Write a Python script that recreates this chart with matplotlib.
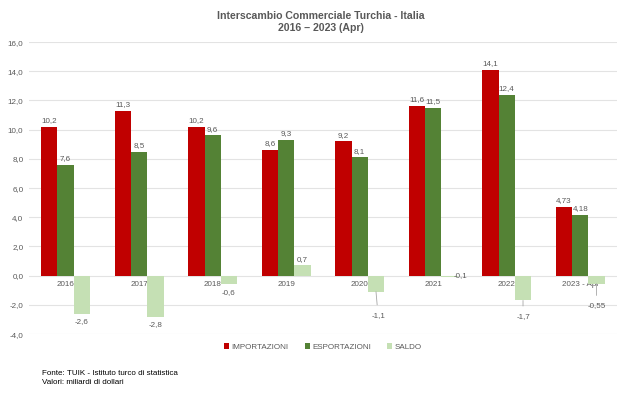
import matplotlib
matplotlib.use("Agg")
import matplotlib.pyplot as plt
import numpy as np

plt.rcParams['font.family'] = ['Liberation Sans', 'DejaVu Sans']

years = ["2016", "2017", "2018", "2019", "2020", "2021", "2022", "2023 - Apr"]
importazioni = [10.2, 11.3, 10.2, 8.6, 9.2, 11.6, 14.1, 4.73]
esportazioni = [7.6, 8.5, 9.6, 9.3, 8.1, 11.5, 12.4, 4.18]
saldo = [-2.6, -2.8, -0.6, 0.7, -1.1, -0.1, -1.7, -0.55]
imp_labels = ["10,2", "11,3", "10,2", "8,6", "9,2", "11,6", "14,1", "4,73"]
esp_labels = ["7,6", "8,5", "9,6", "9,3", "8,1", "11,5", "12,4", "4,18"]
saldo_labels = ["-2,6", "-2,8", "-0,6", "0,7", "-1,1", "-0,1", "-1,7", "-0,55"]

red = "#c00000"
green = "#548235"
light = "#c5e0b4"
gray = "#595959"
fs = 5.8

fig = plt.figure(figsize=(6.42, 3.93), dpi=100)
ax = fig.add_axes([0.045, 0.150, 0.916, 0.743])

x = np.arange(len(years))
w = 0.222
b1 = ax.bar(x - w, importazioni, w, color=red, label="IMPORTAZIONI", zorder=3)
b2 = ax.bar(x, esportazioni, w, color=green, label="ESPORTAZIONI", zorder=3)
b3 = ax.bar(x + w, saldo, w, color=light, label="SALDO", zorder=3)

ax.set_xlim(-0.5, len(years) - 0.5)
ax.set_ylim(-4, 16)
ax.set_yticks(np.arange(-4, 17, 2))
ax.yaxis.set_major_formatter(matplotlib.ticker.FuncFormatter(lambda v, p: ("%.1f" % v).replace(".", ",")))
ax.grid(axis="y", color="#e3e3e3", linewidth=0.8, zorder=0)
for s in ax.spines.values():
    s.set_visible(False)
ax.spines['bottom'].set_position(('data', 0))
ax.set_xticks(x)
ax.set_xticklabels(years)
ax.tick_params(axis="both", length=0, labelsize=fs, labelcolor=gray)
ax.tick_params(axis="x", pad=3.5)
ax.tick_params(axis="y", pad=4)

for rects, labs in [(b1, imp_labels), (b2, esp_labels)]:
    for r, t in zip(rects, labs):
        ax.annotate(t, (r.get_x() + r.get_width() / 2, r.get_height()),
                    xytext=(0, 2), textcoords="offset points",
                    ha="center", va="bottom", fontsize=fs, color=gray)

# saldo labels, some moved with leader lines as in the source
offsets = {0: (0, -3), 1: (0, -3), 2: (0, -3), 3: (0, 2), 4: (1.5, -17), 5: (8, 1), 6: (0, -11.5), 7: (0, -16)}
leaders = {4, 6, 7}
for i, (r, t) in enumerate(zip(b3, saldo_labels)):
    v = saldo[i]
    dx, dy = offsets[i]
    va = "bottom" if dy > 0 else "top"
    if i == 5:
        va = "center"
    xc = r.get_x() + r.get_width() / 2
    if i in leaders:
        ax.annotate(t, (xc, v), xytext=(dx, dy), textcoords="offset points",
                    ha="center", va="center", fontsize=fs, color=gray,
                    arrowprops=dict(arrowstyle="-", color="#a6a6a6", lw=0.6, shrinkA=3, shrinkB=0))
    else:
        ax.annotate(t, (xc, v), xytext=(dx, dy), textcoords="offset points",
                    ha="center", va=va, fontsize=fs, color=gray)

fig.text(0.5, 0.972, "Interscambio Commerciale Turchia - Italia\n2016 \u2013 2023 (Apr)",
         ha="center", va="top", fontsize=7.6, fontweight="bold", color=gray, linespacing=1.25)

ax.legend(loc="center", bbox_to_anchor=(0.5, -0.045), ncol=3, frameon=False,
          fontsize=fs, labelcolor=gray, handlelength=0.6, handleheight=0.6,
          handletextpad=0.3, columnspacing=2.0)

fig.text(0.065, 0.038, "Fonte: TUIK - Istituto turco di statistica\nValori: miliardi di dollari",
         ha="left", va="center", fontsize=5.8, color="black", linespacing=1.3)

fig.savefig("out.png", dpi=100, facecolor="white")
